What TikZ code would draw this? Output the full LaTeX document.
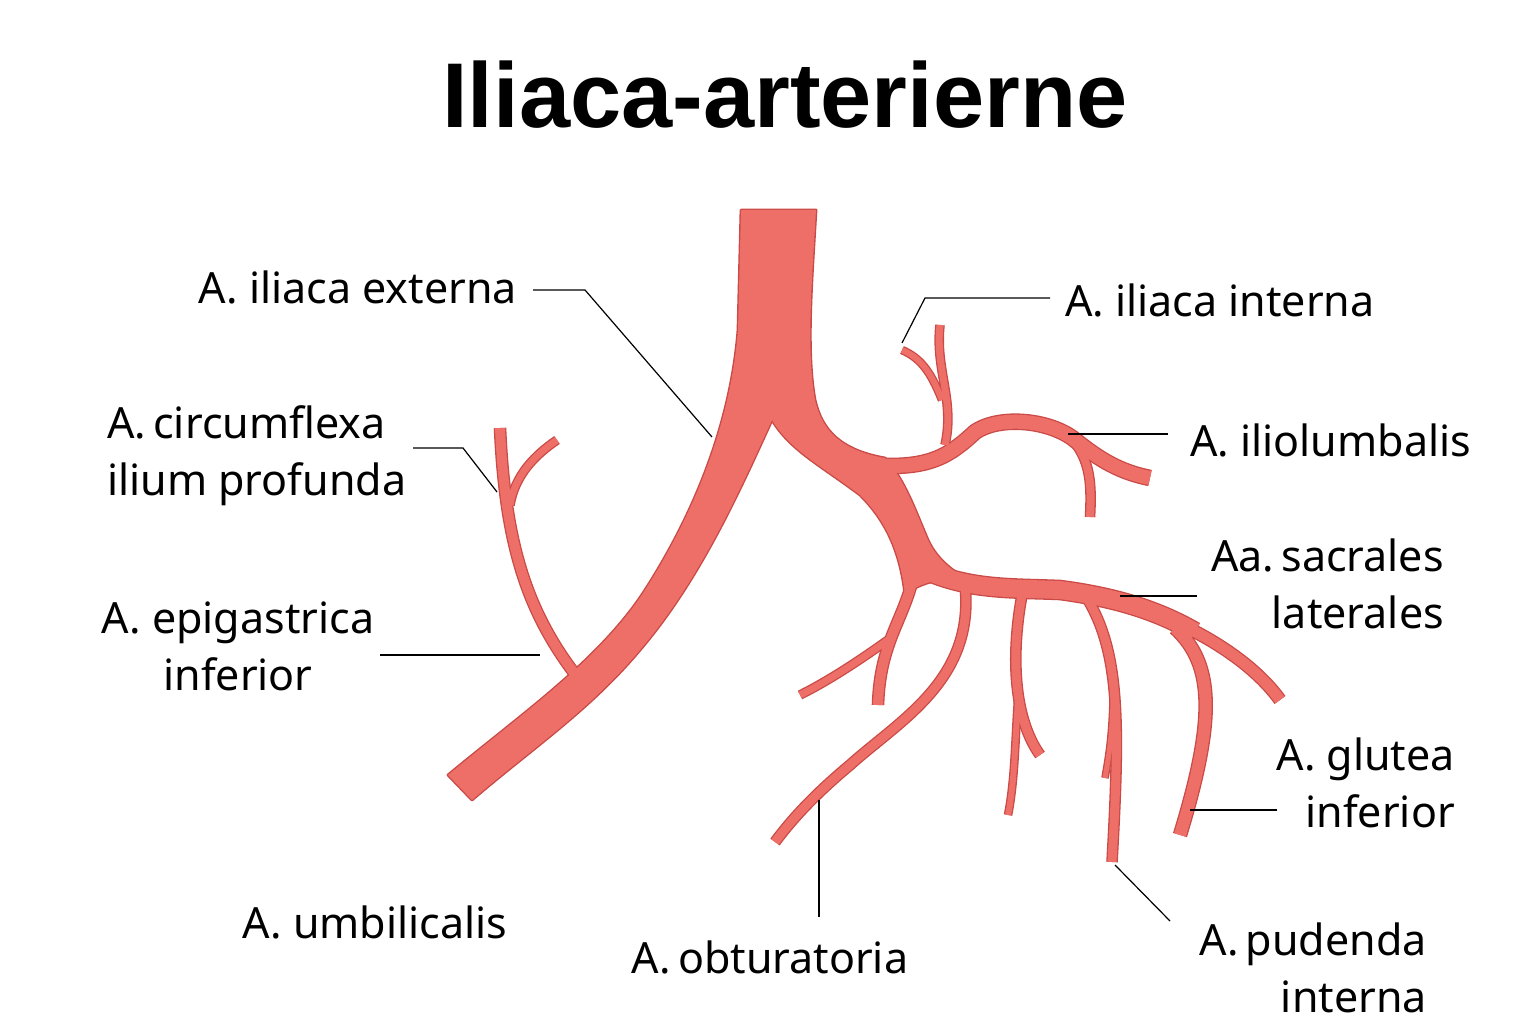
\documentclass[tikz,border=0pt]{standalone}
\usepackage{fontspec}
\setmainfont{Noto Sans}
\newfontfamily\titlef{Liberation Sans}
\definecolor{art}{HTML}{EE6E68}
\definecolor{artd}{HTML}{C94A46}
\begin{document}
\begin{tikzpicture}[x=1pt,y=-1pt,
 lbl/.style={font=\fontsize{43}{57}\selectfont,inner sep=0pt},
 lead/.style={draw=black,line width=1.2pt},
 vess/.style={line cap=butt,line join=round},
]
\useasboundingbox (0,0) rectangle (1536,1024);
\def\trunk{(741,210) -- (816,210) .. controls (812,280) and (806,350) .. (815,400)
 .. controls (822,430) and (840,450) .. (885,458)
 .. controls (905,480) and (915,510) .. (928,540)
 .. controls (935,555) and (945,565) .. (960,575)
 .. controls (935,580) and (915,585) .. (905,595)
 .. controls (900,550) and (885,520) .. (860,495)
 .. controls (820,465) and (790,450) .. (772,420)
 .. controls (740,490) and (700,580) .. (640,650)
 .. controls (590,710) and (530,750) .. (472,800)
 -- (448,775) .. controls (520,715) and (600,660) .. (645,590)
 .. controls (690,520) and (730,430) .. (738,330) -- cycle}
\def\branches#1{%
\foreach \w/\p in {
 10/{(578,678) .. controls (525,610) and (505,540) .. (500,428)},
 7/{(510,505) .. controls (515,475) and (535,455) .. (557,440)},
 7/{(945,445) .. controls (955,400) and (935,370) .. (940,325)},
 6/{(942,400) .. controls (930,370) and (920,358) .. (902,350)},
 14/{(870,465) .. controls (930,470) and (950,455) .. (975,432) .. controls (1000,415) and (1050,420) .. (1075,440) .. controls (1100,460) and (1120,472) .. (1150,478)},
 8/{(1065,432) .. controls (1090,455) and (1092,480) .. (1090,517)},
 10/{(915,570) .. controls (905,620) and (880,640) .. (878,705)},
 7/{(888,640) .. controls (860,660) and (830,680) .. (800,695)},
 9/{(965,585) .. controls (975,680) and (900,720) .. (850,765) .. controls (820,790) and (795,815) .. (775,842)},
 9/{(1022,595) .. controls (1010,660) and (1015,720) .. (1040,755)},
 6/{(1018,700) .. controls (1015,740) and (1015,780) .. (1008,815)},
 9/{(1085,595) .. controls (1120,650) and (1120,720) .. (1112,862)},
 5/{(1113,700) .. controls (1112,740) and (1108,760) .. (1105,778)},
 12/{(1175,628) .. controls (1215,665) and (1215,720) .. (1180,835)},
 18/{(925,570) .. controls (970,590) and (1010,588) .. (1060,590) .. controls (1120,598) and (1160,612) .. (1195,632)},
 11/{(1180,624) .. controls (1230,648) and (1262,675) .. (1280,700)}}
 {#1}}
% outlines
\draw[artd,line width=2.8pt,line join=round] \trunk;
\branches{\draw[vess,artd,line width=\w pt+2.6pt] \p;}
% fills
\fill[art] \trunk;
\branches{\draw[vess,art,line width=\w pt] \p;}
% title
\node[font=\titlef\fontsize{92}{110}\selectfont\bfseries,inner sep=0pt] (title) at (785,95) {Iliaca-arterierne};
% labels
\node[lbl,anchor=east] (ext) at (517,287) {A. iliaca externa};
\node[lbl,anchor=west] (int) at (1065,300) {A. iliaca interna};
\node[lbl,anchor=west] (ilio) at (1190,440) {A. iliolumbalis};
\node[lbl,align=left,anchor=west] (circ) at (107,456) {A.\,circumflexa\\ilium profunda};
\node[lbl,align=center] (epi) at (238,646) {A. epigastrica\\inferior};
\node[lbl,align=right,anchor=east] (sacr) at (1444,584) {Aa.\,sacrales\\laterales};
\node[lbl,align=right,anchor=east] (glut) at (1455,783) {A. glutea\\inferior};
\node[lbl] (umb) at (375,922) {A. umbilicalis};
\node[lbl] (obt) at (770,957) {A.\,obturatoria};
\node[lbl,align=right,anchor=east] (pud) at (1427,968) {A.\,pudenda\\interna};
% leaders
\coordinate (e1) at (533,290); \coordinate (e2) at (712,437);
\draw[lead] (e1) -- (585,290) -- (e2);
\coordinate (i1) at (1050,298); \coordinate (i2) at (902,343);
\draw[lead] (i1) -- (925,298) -- (i2);
\coordinate (l1) at (1168,434); \coordinate (l2) at (1068,434);
\draw[lead] (l1) -- (l2);
\coordinate (c1) at (413,448); \coordinate (c2) at (497,492);
\draw[lead] (c1) -- (463,448) -- (c2);
\coordinate (p1) at (380,655); \coordinate (p2) at (540,655);
\draw[lead] (p1) -- (p2);
\coordinate (s1) at (1197,596); \coordinate (s2) at (1120,596);
\draw[lead] (s1) -- (s2);
\coordinate (g1) at (1277,810); \coordinate (g2) at (1190,810);
\draw[lead] (g1) -- (g2);
\coordinate (o1) at (819,917); \coordinate (o2) at (819,800);
\draw[lead] (o1) -- (o2);
\coordinate (u1) at (1170,921); \coordinate (u2) at (1115,865);
\draw[lead] (u1) -- (u2);
\end{tikzpicture}
\end{document}
